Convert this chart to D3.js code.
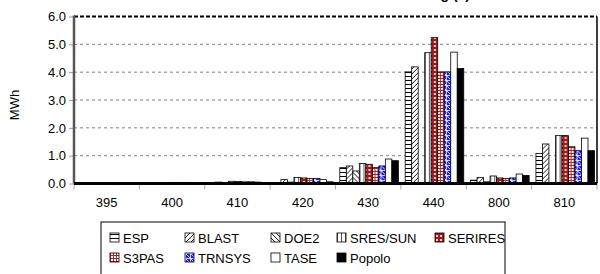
<!DOCTYPE html>
<html>
<head>
<meta charset="utf-8">
<script src="https://cdn.jsdelivr.net/npm/d3@7"></script>
<style>
  body { margin: 0; background: #fff; }
  svg { display: block; font-family: "Liberation Sans", Arial, sans-serif; }
</style>
</head>
<body>
<div id="chart"></div>
<script>
// cases on the x axis
var categories = ["395", "400", "410", "420", "430", "440", "800", "810"];
var series = ["ESP", "BLAST", "DOE2", "SRES/SUN", "SERIRES", "S3PAS", "TRNSYS", "TASE", "Popolo"];

// values in MWh
var esp     = [0.00, 0.01, 0.01, 0.03, 0.57, 4.01, 0.12, 1.08];
var blast   = [0.01, 0.02, 0.05, 0.14, 0.63, 4.19, 0.22, 1.42];
var doe2    = [0.00, 0.01, 0.02, 0.05, 0.45, 0.02, 0.06, 0.03];
var sres    = [0.01, 0.04, 0.08, 0.22, 0.72, 4.70, 0.27, 1.72];
var serires = [0.01, 0.04, 0.07, 0.20, 0.69, 5.24, 0.20, 1.72];
var s3pas   = [0.01, 0.04, 0.06, 0.18, 0.57, 4.01, 0.18, 1.32];
var trnsys  = [0.01, 0.04, 0.06, 0.18, 0.63, 4.01, 0.20, 1.18];
var tase    = [0.02, 0.04, 0.05, 0.14, 0.88, 4.72, 0.34, 1.63];
var popolo  = [0.01, 0.02, 0.03, 0.06, 0.82, 4.13, 0.29, 1.18];
var values = [esp, blast, doe2, sres, serires, s3pas, trnsys, tase, popolo];

var yTicks = [0, 1, 2, 3, 4, 5, 6];

var width = 600, height = 274;
var plotLeft = 74, plotRight = 597, plotTop = 16.5, plotBottom = 183.5;

var svg = d3.select("#chart").append("svg")
  .attr("width", width)
  .attr("height", height);

// fill patterns
var defs = svg.append("defs");
function pat(id, w, h, bg) {
  var p = defs.append("pattern").attr("id", id)
    .attr("patternUnits", "userSpaceOnUse")
    .attr("width", w).attr("height", h);
  p.append("rect").attr("width", w).attr("height", h).attr("fill", bg);
  return p;
}
var p;
p = pat("p-esp", 4, 4, "#fff");
p.append("line").attr("x1", 0).attr("y1", 0.5).attr("x2", 4).attr("y2", 0.5).attr("stroke", "#000");
p = pat("p-blast", 5, 5, "#fff");
p.append("path").attr("d", "M0,5L5,0M-1,1L1,-1M4,6L6,4").attr("stroke", "#000").attr("stroke-width", 0.9);
p = pat("p-doe2", 5, 5, "#fff");
p.append("path").attr("d", "M0,0L5,5M4,-1L6,1M-1,4L1,6").attr("stroke", "#000").attr("stroke-width", 0.9);
p = pat("p-sres", 4, 4, "#fff");
p.append("line").attr("x1", 0.5).attr("y1", 0).attr("x2", 0.5).attr("y2", 4).attr("stroke", "#555");
p = pat("p-serires", 4, 4, "#a01818");
p.append("circle").attr("cx", 2).attr("cy", 2).attr("r", 1.1).attr("fill", "#fff");
p = pat("p-s3pas", 3, 3, "#fff");
p.append("path").attr("d", "M0,0.5H3M0.5,0V3").attr("stroke", "#b52020").attr("stroke-width", 1);
p = pat("p-trnsys", 5, 5, "#1a1aff");
p.append("path").attr("d", "M0,0.5H5M0.5,0V5M0,0L5,5").attr("stroke", "#fff").attr("stroke-width", 0.8);

var fills = ["url(#p-esp)", "url(#p-blast)", "url(#p-doe2)", "url(#p-sres)", "url(#p-serires)",
  "url(#p-s3pas)", "url(#p-trnsys)", "#fff", "#000"];

var x0 = d3.scaleBand().domain(categories).range([plotLeft, plotRight]);
var x1 = d3.scaleBand().domain(series).range([4.3, x0.bandwidth() - 2.5]);
var y = d3.scaleLinear().domain([0, 6]).range([plotBottom, plotTop]);

// title, mostly above the visible area
svg.append("text")
  .attr("x", 470).attr("y", -1)
  .attr("text-anchor", "end")
  .style("font-size", "14px").style("font-weight", "bold")
  .text("Annual Sensible Cooling (a)");

// gridlines
svg.append("g").selectAll("line")
  .data(yTicks.filter(function(d) { return d > 0 && d < 6; }))
  .enter().append("line")
  .attr("x1", plotLeft).attr("x2", plotRight)
  .attr("y1", function(d) { return y(d); }).attr("y2", function(d) { return y(d); })
  .attr("stroke", "#808080").attr("stroke-dasharray", "3,3");

// y axis
var yAxis = svg.append("g")
  .attr("transform", "translate(" + plotLeft + ",0)")
  .call(d3.axisLeft(y).tickValues(yTicks).tickFormat(d3.format(".1f")).tickSize(5).tickPadding(3));
yAxis.select(".domain").remove();
yAxis.selectAll("line").attr("stroke", "#999");
yAxis.selectAll("text").style("font-size", "13px").attr("fill", "#000");

svg.append("text")
  .attr("transform", "translate(19," + ((plotTop + plotBottom) / 2 + 5) + ") rotate(-90)")
  .attr("text-anchor", "middle")
  .style("font-size", "13px")
  .text("MWh");

// bars
var groups = svg.append("g").selectAll("g")
  .data(categories)
  .enter().append("g")
  .attr("transform", function(d) { return "translate(" + x0(d) + ",0)"; });

groups.selectAll("rect")
  .data(function(c, i) {
    return series.map(function(s, j) { return { s: s, j: j, v: values[j][i] }; });
  })
  .enter().append("rect")
  .attr("x", function(d) { return x1(d.s); })
  .attr("width", x1.bandwidth())
  .attr("y", function(d) { return y(d.v); })
  .attr("height", function(d) { return y(0) - y(d.v); })
  .attr("fill", function(d) { return fills[d.j]; })
  .attr("stroke", "#000").attr("stroke-width", 0.8);

// frame: dashed top, solid right
svg.append("line").attr("x1", plotLeft).attr("x2", plotRight).attr("y1", plotTop).attr("y2", plotTop)
  .attr("stroke", "#000").attr("stroke-width", 2).attr("stroke-dasharray", "4,2");
svg.append("line").attr("x1", plotRight).attr("x2", plotRight).attr("y1", plotTop).attr("y2", plotBottom)
  .attr("stroke", "#000").attr("stroke-width", 1.5);
svg.append("line").attr("x1", plotLeft).attr("x2", plotLeft).attr("y1", plotTop - 1).attr("y2", plotBottom)
  .attr("stroke", "#555").attr("stroke-width", 2.5);

// x axis
var xAxis = svg.append("g")
  .attr("transform", "translate(0," + plotBottom + ")")
  .call(d3.axisBottom(x0).tickSize(0).tickPadding(14));
xAxis.select(".domain").remove();
xAxis.selectAll("text").style("font-size", "13px").attr("fill", "#000");
svg.append("g").selectAll("line")
  .data(categories.concat(["end"]))
  .enter().append("line")
  .attr("x1", function(d, i) { return plotLeft + i * x0.step(); })
  .attr("x2", function(d, i) { return plotLeft + i * x0.step(); })
  .attr("y1", plotBottom).attr("y2", plotBottom + 6)
  .attr("stroke", "#aaa");
svg.append("line").attr("x1", plotLeft).attr("x2", plotRight).attr("y1", plotBottom).attr("y2", plotBottom)
  .attr("stroke", "#000").attr("stroke-width", 3);

// legend
var legCols = [110, 185, 271, 337, 435];
var legRows = [238, 258];
var legend = svg.append("g");
legend.append("rect")
  .attr("x", 101).attr("y", 222).attr("width", 404).attr("height", 70)
  .attr("fill", "#fff").attr("stroke", "#000");
var items = legend.selectAll("g.item")
  .data(series)
  .enter().append("g").attr("class", "item")
  .attr("transform", function(d, i) {
    var r = i < 5 ? 0 : 1, c = i < 5 ? i : i - 5;
    return "translate(" + legCols[c] + "," + legRows[r] + ")";
  });
items.append("rect")
  .attr("x", 0).attr("y", -5).attr("width", 9).attr("height", 9)
  .attr("fill", function(d, i) { return fills[i]; })
  .attr("stroke", "#000").attr("stroke-width", 0.8);
items.append("text")
  .attr("x", 13).attr("y", 5)
  .style("font-size", "13px")
  .text(function(d) { return d; });
</script>
</body>
</html>
